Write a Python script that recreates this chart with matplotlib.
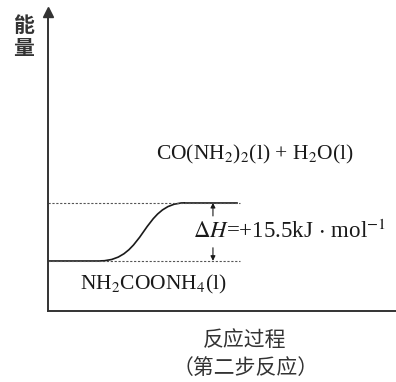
import numpy as np
import matplotlib
matplotlib.use('Agg')
import matplotlib.pyplot as plt
from matplotlib.path import Path
from matplotlib.patches import PathPatch

# 数据：两个能级（相对能量，kJ/mol）
species = [r'NH$_2$COONH$_4$(l)', r'CO(NH$_2$)$_2$(l) + H$_2$O(l)']
energy = [0.0, 15.5]
dH_text = r'$\Delta$$H$=+15.5kJ$\,\cdot\,$mol$^{-1}$'
xlabel_lines = ['反应过程', '（第二步反应）']
ylabel = '能\n量'

plt.rcParams['mathtext.fontset'] = 'stix'
plt.rcParams['font.family'] = ['Liberation Serif', 'Noto Sans CJK SC']

fig = plt.figure(figsize=(3.96, 3.82), dpi=100)
ax = fig.add_axes([48/396, 71/382, 348/396, 299/382])
ax.set_xlim(0, 100)
ax.set_ylim(-13.4, 66.5)

e0, e1 = energy
ink = '#1a1a1a'

# 能级线
ax.plot([0, 15], [e0, e0], color=ink, lw=1.2)
ax.plot([39.4, 54.3], [e1, e1], color=ink, lw=1.2)
ax.plot([0, 55.2], [e0, e0], color='#555555', lw=0.8, ls=(0, (2, 1.5)))
ax.plot([0, 55.2], [e1, e1], color='#555555', lw=0.8, ls=(0, (2, 1.5)))

# 连接曲线（贝塞尔）
verts = [(15, e0), (28, e0), (27, e1), (39.4, e1)]
path = Path(verts, [Path.MOVETO, Path.CURVE4, Path.CURVE4, Path.CURVE4])
ax.add_patch(PathPatch(path, fill=False, edgecolor=ink, lw=1.2))

# ΔH 箭头
xa = 47.4
ax.annotate('', xy=(xa, e1), xytext=(xa, e1 - 3.5),
            arrowprops=dict(arrowstyle='-|>', color=ink, lw=0.8, mutation_scale=7,
                            shrinkA=0, shrinkB=0))
ax.annotate('', xy=(xa, e0), xytext=(xa, e0 + 3.5),
            arrowprops=dict(arrowstyle='-|>', color=ink, lw=0.8, mutation_scale=7,
                            shrinkA=0, shrinkB=0))
ax.text(41.7, (e0 + e1) / 2, dH_text, fontsize=16.5, color=ink, ha='left', va='center')

# 物种标注
ax.text(59.5, 28.3, species[1], fontsize=15.5, color=ink, ha='center', va='center')
ax.text(30.2, -6.4, species[0], fontsize=15.5, color=ink, ha='center', va='center')

# 坐标轴
for s in ['top', 'right']:
    ax.spines[s].set_visible(False)
for s in ['left', 'bottom']:
    ax.spines[s].set_linewidth(1.4)
    ax.spines[s].set_color('#333333')
ax.set_xticks([])
ax.set_yticks([])
ax.plot(0, 1, marker='^', color='#333333', markersize=7, transform=ax.transAxes,
        clip_on=False)

fig.text(23/396, 1 - 37/382, ylabel, ha='center', va='center', fontsize=15,
         family='Noto Sans CJK SC', weight='bold', color='#333333', linespacing=1.15)
fig.text(245/396, 1 - 340/382, xlabel_lines[0], ha='center', va='center', fontsize=15,
         family='Noto Sans CJK SC', color='#333333')
fig.text(246/396, 1 - 368/382, xlabel_lines[1], ha='center', va='center', fontsize=15,
         family='Noto Sans CJK SC', color='#333333')

fig.savefig('out.png', dpi=100)
